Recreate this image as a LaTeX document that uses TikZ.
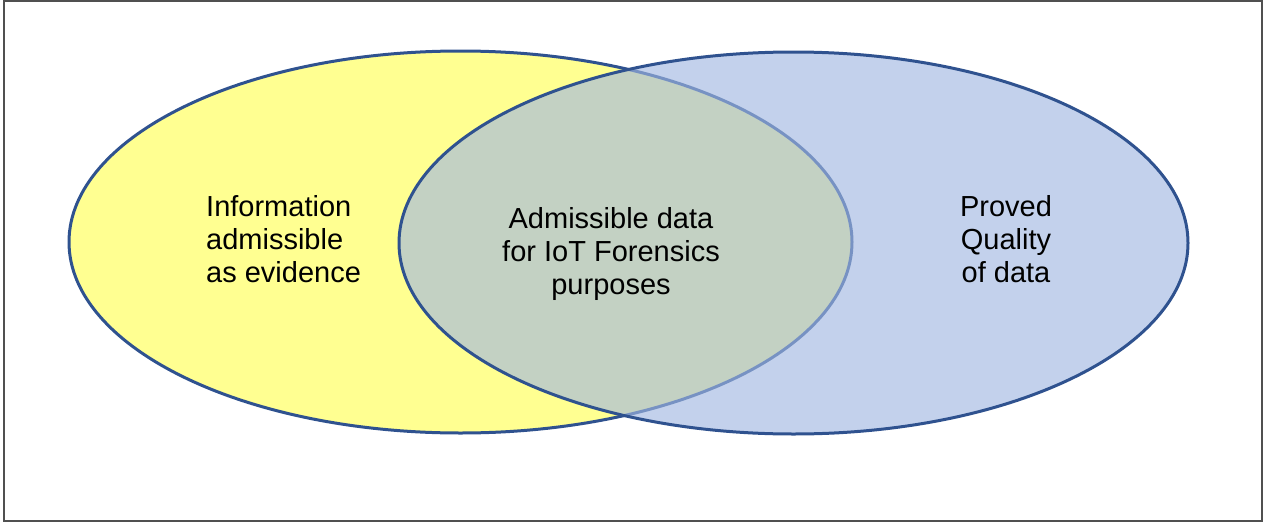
\documentclass[tikz,border=0pt]{standalone}
\usepackage{fontspec}
\setmainfont{Liberation Sans}
\begin{document}
\begin{tikzpicture}[x=1pt,y=-1pt,
  setedge/.style={draw=setblue,line width=3pt},
  lbl/.style={align=center,font=\fontsize{29}{33}\selectfont,text=black,inner sep=0pt}]
\definecolor{setblue}{RGB}{47,82,143}
\definecolor{setyellow}{RGB}{255,255,145}
\definecolor{setfill}{RGB}{161,183,225}
\useasboundingbox (0,0) rectangle (1269,525);
\draw[draw={rgb,255:red,80;green,80;blue,80},line width=2pt] (4,1) rectangle (1262,521);
\path[setedge,fill=setyellow] (460.5,242) ellipse [x radius=391.5,y radius=191];
\path[fill=setfill,fill opacity=0.636] (793.5,243) ellipse [x radius=394.5,y radius=191];
\path[setedge] (793.5,243) ellipse [x radius=394.5,y radius=191];
\node[lbl,align=left,anchor=west] (left) at (206,239) {Information\\admissible\\as evidence};
\node[lbl] (mid) at (611,254) {Admissible data\\for IoT Forensics\\purposes};
\node[lbl] (right) at (1006,239) {Proved\\Quality\\of data};
\end{tikzpicture}
\end{document}
